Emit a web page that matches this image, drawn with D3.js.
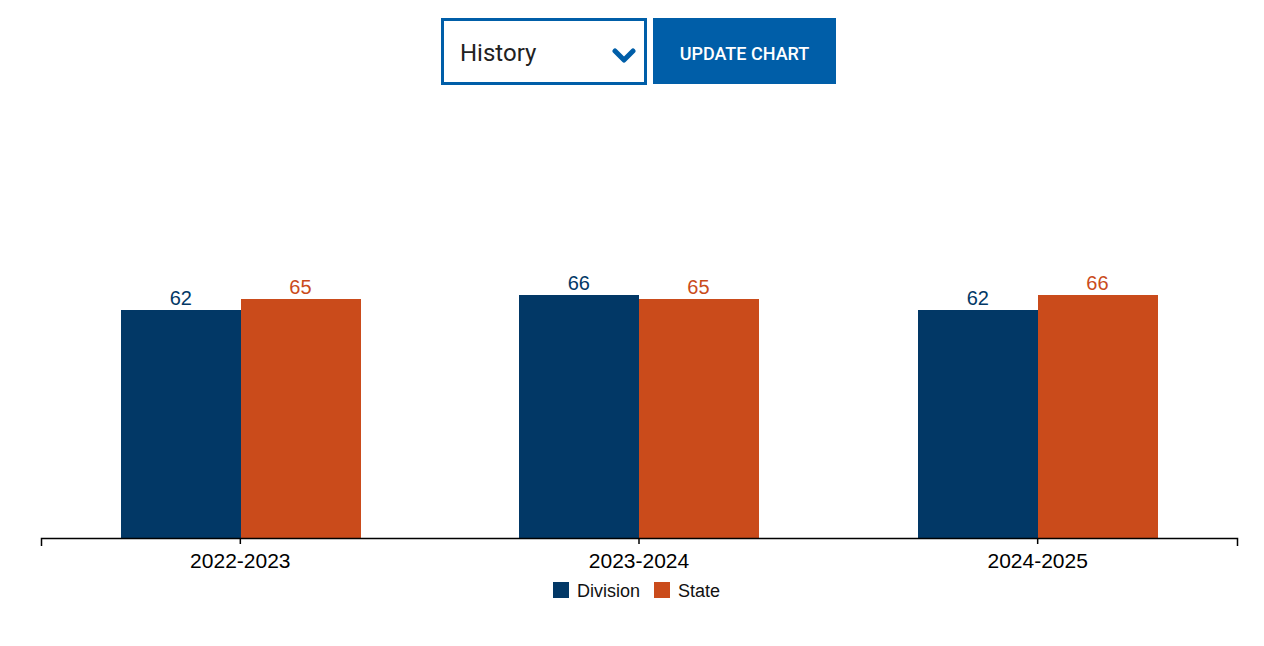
<!DOCTYPE html>
<html>
<head>
<meta charset="utf-8">
<script src="https://cdn.jsdelivr.net/npm/d3@7"></script>
<style>
  html, body { margin: 0; padding: 0; background: #fff; }
  body { width: 1264px; height: 646px; position: relative; overflow: hidden; }
  .controls { position: absolute; top: 18px; left: 441px; height: 67px; }
  .select { position: absolute; left: 0; top: 0; width: 200px; height: 61px; border: 3px solid #005ea8; background: #fff; box-sizing: content-box; }
  .select span { position: absolute; left: 16px; top: 18px; font-family: Roboto, sans-serif; font-size: 24px; color: #222; }
  .select svg { position: absolute; left: 168px; top: 27px; }
  .btn { position: absolute; left: 212px; top: 0; width: 183px; height: 66px; background: #005ea8; color: #fff; font-family: Roboto, sans-serif; font-weight: 500; font-size: 18px; display: flex; align-items: center; justify-content: center; padding-top: 4px; box-sizing: border-box; }
  #chart { position: absolute; left: 0; top: 0; }
</style>
</head>
<body>
<div class="controls">
  <div class="select"><span>History</span>
    <svg width="26" height="16" viewBox="0 0 26 16"><path d="M3 3 L12 12 L21 3" fill="none" stroke="#005ea8" stroke-width="5" stroke-linecap="round" stroke-linejoin="round"/></svg>
  </div>
  <div class="btn">UPDATE CHART</div>
</div>
<svg id="chart" width="1264" height="646"></svg>
<script>
const categories = ["2022-2023", "2023-2024", "2024-2025"];
const seriesNames = ["Division", "State"];
const divisionValues = [62, 66, 62];
const stateValues = [65, 65, 66];
const colors = ["#023866", "#ca4b1b"];

const svg = d3.select("#chart");
const x0 = d3.scaleBand().domain(categories).range([41, 1237]).padding(0);
const groupW = x0.bandwidth() * 0.6;
const x1 = d3.scaleBand().domain(seriesNames).range([0, groupW]).padding(0);
const y = d3.scaleLinear().domain([0, 100]).range([538, 170]);

const rows = categories.map((c, i) => ({ cat: c, vals: [
  { s: "Division", v: divisionValues[i] },
  { s: "State", v: stateValues[i] }
]}));

const color = d3.scaleOrdinal().domain(seriesNames).range(colors);

const g = svg.selectAll("g.grp").data(rows).join("g")
  .attr("class", "grp")
  .attr("transform", d => `translate(${Math.round(x0(d.cat) + (x0.bandwidth() - groupW) / 2)},0)`);

g.selectAll("rect").data(d => d.vals).join("rect")
  .attr("x", d => Math.round(x1(d.s)))
  .attr("y", d => y(d.v))
  .attr("width", Math.round(x1.bandwidth()))
  .attr("height", d => y(0) - y(d.v))
  .attr("shape-rendering", "crispEdges")
  .attr("fill", d => color(d.s));

g.selectAll("text").data(d => d.vals).join("text")
  .attr("x", d => x1(d.s) + x1.bandwidth() / 2)
  .attr("y", d => y(d.v) - 5)
  .attr("text-anchor", "middle")
  .attr("font-family", "Liberation Sans, Arial, sans-serif")
  .attr("font-size", 20)
  .attr("fill", d => color(d.s))
  .text(d => d.v);

const axis = svg.append("g").attr("transform", "translate(0,538)")
  .call(d3.axisBottom(x0).tickSizeInner(6).tickSizeOuter(8).tickPadding(9));
axis.select(".domain").attr("stroke", "#000").attr("stroke-width", 1.5);
axis.selectAll(".tick line").attr("stroke", "#000").attr("stroke-width", 1.5);
axis.selectAll(".tick text")
  .attr("font-family", "Liberation Sans, Arial, sans-serif")
  .attr("font-size", 21)
  .attr("fill", "#000");

// legend
const legendX = [553, 654];
const lg = svg.append("g").selectAll("g").data(seriesNames).join("g")
  .attr("transform", (d, i) => `translate(${legendX[i]},582)`);
lg.append("rect").attr("width", 16).attr("height", 16).attr("fill", d => color(d));
lg.append("text").attr("x", 24).attr("y", 15)
  .attr("font-family", "Liberation Sans, Arial, sans-serif")
  .attr("font-size", 18).attr("fill", "#111").text(d => d);
</script>
</body>
</html>
